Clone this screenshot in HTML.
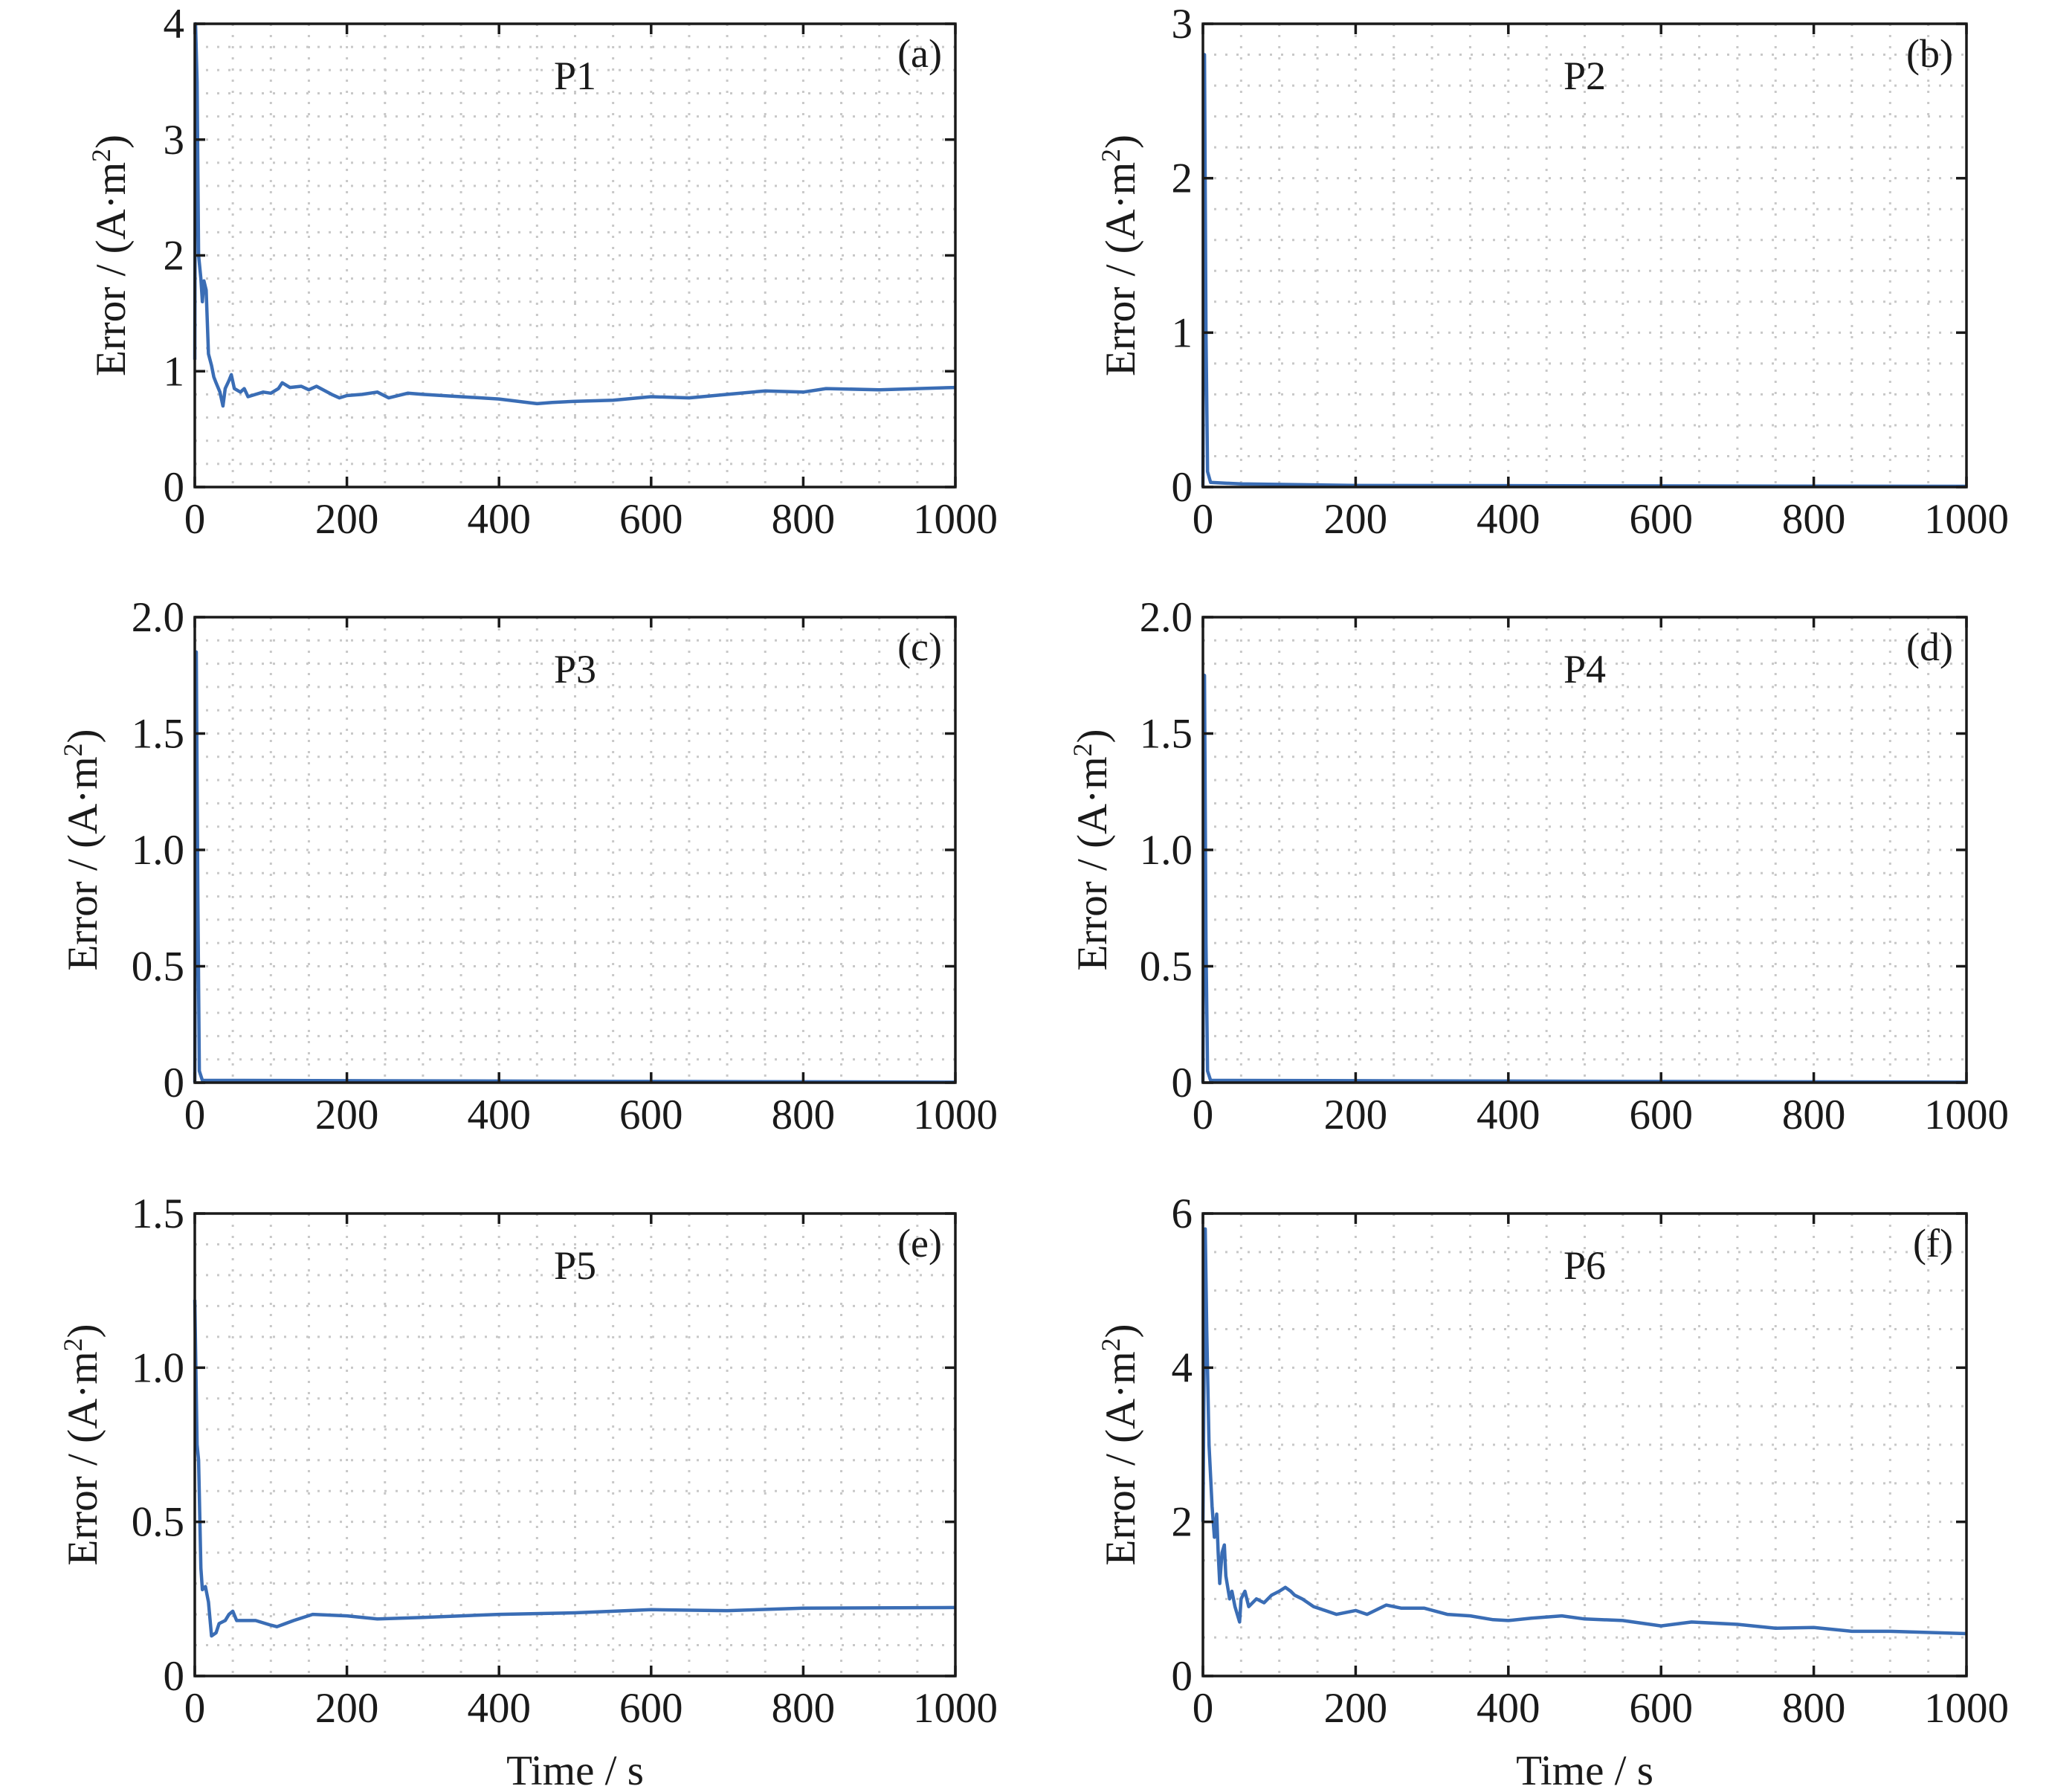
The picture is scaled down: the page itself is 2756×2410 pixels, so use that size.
<!DOCTYPE html>
<html><head><meta charset="utf-8"><style>
html,body{margin:0;padding:0;background:#fff;}
svg text{font-family:"Liberation Serif",serif;fill:#1a1a1a;}
</style></head><body>
<svg id="fig" xmlns="http://www.w3.org/2000/svg" width="2756" height="2405" viewBox="0 0 2756 2405"></svg>
<script>
const xTicks=[0,200,400,600,800,1000];
const t1=[0,1,3,5,8,10,12,15,18,22,25,28,33,37,40,45,48,52,60,65,70,80,90,100,110,115,125,140,150,160,180,190,200,220,240,255,280,300,350,400,450,470,500,550,600,650,700,750,800,830,900,1000];
const v1=[1.1,4.0,3.5,2.0,1.8,1.6,1.78,1.7,1.15,1.05,0.95,0.9,0.82,0.7,0.85,0.92,0.97,0.85,0.82,0.85,0.78,0.8,0.82,0.81,0.85,0.9,0.86,0.87,0.84,0.87,0.8,0.77,0.79,0.8,0.82,0.77,0.81,0.8,0.78,0.76,0.72,0.73,0.74,0.75,0.78,0.77,0.8,0.83,0.82,0.85,0.84,0.86];
const t2=[0,2,4,6,10,50,200,1000];
const v2=[0,2.8,1.0,0.1,0.03,0.02,0.01,0.005];
const t3=[0,2,4,6,10,1000];
const v3=[0,1.85,0.8,0.05,0.01,0.002];
const t4=[0,2,4,6,10,1000];
const v4=[0,1.75,0.6,0.05,0.01,0.002];
const t5=[0,3,5,8,10,14,18,22,28,32,40,45,50,55,80,100,108,130,155,200,240,300,400,500,600,700,800,1000];
const v5=[1.22,0.75,0.7,0.35,0.28,0.29,0.24,0.13,0.14,0.17,0.18,0.2,0.21,0.18,0.18,0.165,0.16,0.18,0.2,0.195,0.185,0.19,0.2,0.205,0.215,0.212,0.22,0.222];
const t6=[0,3,5,8,12,15,18,20,22,25,28,30,35,38,42,48,50,55,60,70,80,90,100,108,115,120,130,145,160,175,200,215,240,260,290,320,350,380,400,430,470,500,550,600,640,700,750,800,850,900,1000];
const v6=[2.0,5.8,4.5,3.0,2.2,1.8,2.1,1.6,1.2,1.6,1.7,1.3,1.0,1.1,0.9,0.7,1.0,1.1,0.9,1.0,0.95,1.05,1.1,1.15,1.1,1.05,1.0,0.9,0.85,0.8,0.85,0.8,0.92,0.88,0.88,0.8,0.78,0.73,0.72,0.75,0.78,0.74,0.72,0.65,0.7,0.67,0.62,0.63,0.58,0.58,0.55];
const yTicks1=["0","1","2","3","4"],yTicks2=["0","1","2","3"],yTicks3=["0","0.5","1.0","1.5","2.0"],yTicks5=["0","0.5","1.0","1.5"],yTicks6=["0","2","4","6"];
const panels=[
 {id:'a',name:'P1',x0:262,x1:1285,y0:32,y1:655,ymax:4,tick:1,grid:0.2,labels:yTicks1,t:t1,v:v1,ylx:150},
 {id:'b',name:'P2',x0:1618,x1:2645,y0:32,y1:655,ymax:3,tick:1,grid:0.2,labels:yTicks2,t:t2,v:v2,ylx:1508},
 {id:'c',name:'P3',x0:262,x1:1285,y0:830,y1:1456,ymax:2,tick:0.5,grid:0.1,labels:yTicks3,t:t3,v:v3,ylx:112},
 {id:'d',name:'P4',x0:1618,x1:2645,y0:830,y1:1456,ymax:2,tick:0.5,grid:0.1,labels:yTicks3,t:t4,v:v4,ylx:1470},
 {id:'e',name:'P5',x0:262,x1:1285,y0:1632,y1:2254,ymax:1.5,tick:0.5,grid:0.1,labels:yTicks5,t:t5,v:v5,ylx:112},
 {id:'f',name:'P6',x0:1618,x1:2645,y0:1632,y1:2254,ymax:6,tick:2,grid:0.5,labels:yTicks6,t:t6,v:v6,ylx:1508}
];
const NS='http://www.w3.org/2000/svg';
const svg=document.getElementById('fig');
function mk(tag,attrs,parent){const e=document.createElementNS(NS,tag);for(const k in attrs)e.setAttribute(k,attrs[k]);parent.appendChild(e);return e;}
panels.forEach(p=>{
 const g=mk('g',{},svg);
 
 
 const sx=x=>p.x0+(x/1000)*(p.x1-p.x0);
 const sy=y=>p.y1-(y/p.ymax)*(p.y1-p.y0);
 const gg=mk('g',{stroke:'#c8c8c8','stroke-width':3,'stroke-dasharray':'3 12'},g);
 
 
 for(let x=50;x<1000;x+=50)mk('line',{x1:sx(x),y1:p.y0,x2:sx(x),y2:p.y1},gg);
 const n=Math.round(p.ymax/p.grid);
 for(let i=1;i<n;i++)mk('line',{x1:p.x0,y1:sy(i*p.grid),x2:p.x1,y2:sy(i*p.grid)},gg);
 const pts=p.t.map((t,i)=>sx(t).toFixed(1)+','+sy(p.v[i]).toFixed(1)).join(' ');
 const pl=mk('polyline',{points:pts,fill:'none',stroke:'#3a6db5','stroke-width':4.5,'stroke-linejoin':'round'},g);
 
 
 const box=mk('rect',{x:p.x0,y:p.y0,width:p.x1-p.x0,height:p.y1-p.y0,fill:'none',stroke:'#1a1a1a','stroke-width':3.5},g);
 
 
 xTicks.forEach(x=>{
  mk('line',{x1:sx(x),y1:p.y1,x2:sx(x),y2:p.y1-14,stroke:'#1a1a1a','stroke-width':3.5},g);
  mk('line',{x1:sx(x),y1:p.y0,x2:sx(x),y2:p.y0+14,stroke:'#1a1a1a','stroke-width':3.5},g);
  const tx=mk('text',{x:sx(x),y:p.y1+62,'font-size':57,'text-anchor':'middle'},g);
  tx.textContent=x;
  
  
 });
 p.labels.forEach((lab,i)=>{
  const y=sy(i*p.tick);
  mk('line',{x1:p.x0,y1:y,x2:p.x0+14,y2:y,stroke:'#1a1a1a','stroke-width':3.5},g);
  mk('line',{x1:p.x1,y1:y,x2:p.x1-14,y2:y,stroke:'#1a1a1a','stroke-width':3.5},g);
  const ty=mk('text',{x:p.x0-14,y:y+19,'font-size':57,'text-anchor':'end'},g);
  ty.textContent=lab;
  
  
 });
 const yl=mk('text',{x:p.ylx,y:(p.y0+p.y1)/2,'font-size':57,'text-anchor':'middle',transform:`rotate(-90 ${p.ylx} ${(p.y0+p.y1)/2})`,dy:18},g);
 yl.innerHTML='Error / (A·m<tspan dy="-20" font-size="36">2</tspan><tspan dy="20">)</tspan>';
 
 
 const tl=mk('text',{x:(p.x0+p.x1)/2,y:p.y0+88,'font-size':54,'text-anchor':'middle'},g);
 tl.textContent=p.name;
 
 
 const pl2=mk('text',{x:p.x1-18,y:p.y0+58,'font-size':54,'text-anchor':'end'},g);
 pl2.textContent='('+p.id+')';
 
 
 if(p.id==='e'||p.id==='f'){
  const xl=mk('text',{x:(p.x0+p.x1)/2,y:2400,'font-size':57,'text-anchor':'middle'},g);
  xl.textContent='Time / s';
  
  
 }
});
</script>
</body></html>
